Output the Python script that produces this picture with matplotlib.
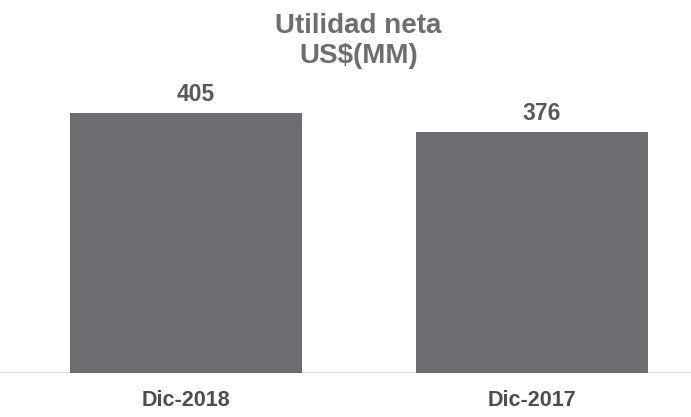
import matplotlib

matplotlib.use("Agg")
import matplotlib.pyplot as plt

categories = ["Dic-2018", "Dic-2017"]
values = [405, 376]
title_lines = ["Utilidad neta", "US$(MM)"]

BAR_COLOR = "#6c6c71"
TEXT_GRAY = "#5a5a5a"

plt.rcParams["font.family"] = ["Liberation Sans", "DejaVu Sans"]

fig = plt.figure(figsize=(6.91, 4.17), dpi=100)
ax = fig.add_axes([0.0, 0.105, 1.0, 0.705])

x = list(range(len(categories)))
ax.bar(x, values, width=0.67, color=BAR_COLOR, edgecolor="none", zorder=2)

# value labels sit a touch right of the bar centre
for xi, v in zip(x, values):
    ax.annotate(
        f"{v}",
        (xi, v),
        textcoords="offset points",
        xytext=(7, 5),
        ha="center",
        va="bottom",
        fontsize=16.5,
        fontweight="bold",
        color=TEXT_GRAY,
    )

ax.set_xlim(-0.538, 1.46)
ax.set_ylim(0, 458)

# light baseline across the full width
ax.axhline(0, color="#d4d4d4", linewidth=1.2, zorder=1)

ax.set_xticks(x)
ax.set_xticklabels(categories, fontsize=15.5, fontweight="bold", color="#4e4e4e")
ax.tick_params(axis="x", length=0, pad=12)
ax.set_yticks([])
for side in ["top", "right", "left", "bottom"]:
    ax.spines[side].set_visible(False)

fig.text(
    0.519,
    0.97,
    "\n".join(title_lines),
    ha="center",
    va="top",
    fontsize=20,
    fontweight="bold",
    color="#6e6e6e",
    linespacing=1.2,
)

fig.savefig("out.png", dpi=100, facecolor="white")
plt.close(fig)
